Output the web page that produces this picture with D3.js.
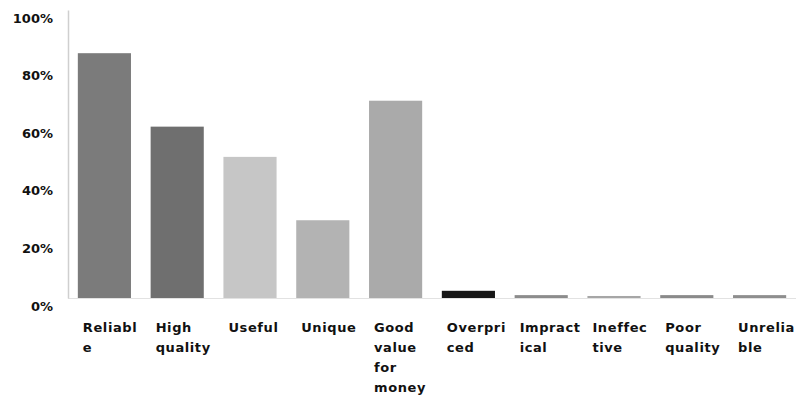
<!DOCTYPE html>
<html>
<head>
<meta charset="utf-8">
<script src="https://cdn.jsdelivr.net/npm/d3@7/dist/d3.min.js"></script>
<style>
  html, body { margin: 0; padding: 0; background: #fff; }
  svg { display: block; }
  text { font-family: "DejaVu Sans", sans-serif; font-weight: bold; fill: #111; }
</style>
</head>
<body>
<svg id="chart" width="796" height="398"></svg>
<script>
// Share of respondents choosing each attribute
const categories = ["Reliable", "High quality", "Useful", "Unique", "Good value for money",
                    "Overpriced", "Impractical", "Ineffective", "Poor quality", "Unreliable"];
const values = [0.85, 0.595, 0.49, 0.27, 0.685, 0.025, 0.01, 0.007, 0.01, 0.01];
const barColors = ["#7b7b7b", "#6f6f6f", "#c6c6c6", "#b3b3b3", "#aaaaaa",
                   "#161616", "#8c8c8c", "#a6a6a6", "#8a8a8a", "#8e8e8e"];
const yTicks = [0, 0.2, 0.4, 0.6, 0.8, 1.0];

const svg = d3.select("#chart");
const plotLeft = 68, plotRight = 796, plotTop = 10, plotBottom = 298;

const x = d3.scaleBand()
  .domain(categories)
  .range([plotLeft, plotRight])
  .paddingInner(0.27)
  .paddingOuter(0.135);

const y = d3.scaleLinear().domain([0, 1]).range([plotBottom, plotTop]);

// baseline
svg.append("line")
  .attr("x1", plotLeft).attr("x2", plotRight)
  .attr("y1", plotBottom + 0.5).attr("y2", plotBottom + 0.5)
  .attr("stroke", "#e2e2e2").attr("stroke-width", 1);

// bars
svg.append("g").selectAll("rect")
  .data(categories)
  .join("rect")
  .attr("x", d => x(d))
  .attr("width", x.bandwidth())
  .attr("y", (d, i) => y(values[i]))
  .attr("height", (d, i) => y(0) - y(values[i]))
  .attr("fill", (d, i) => barColors[i]);

// y axis
const yAxis = svg.append("g")
  .attr("transform", `translate(${plotLeft},0)`)
  .call(d3.axisLeft(y).tickValues(yTicks).tickFormat(d3.format(".0%")).tickSize(0).tickPadding(15));
yAxis.select(".domain").attr("stroke", "#cfcfcf").attr("stroke-width", 1.5);
yAxis.selectAll("text")
  .attr("dy", "0.32em")
  .attr("y", 8)
  .style("font-size", "13px")
  .style("font-family", "'DejaVu Sans', sans-serif")
  .style("font-weight", "bold")
  .attr("fill", "#111");

// wrap a label into lines of at most n characters, splitting long words
function wrapLabel(label, n) {
  const lines = [];
  let cur = "";
  label.split(" ").forEach(w => {
    while (w.length > n) {
      if (cur) { lines.push(cur); cur = ""; }
      lines.push(w.slice(0, n));
      w = w.slice(n);
    }
    if (!cur) cur = w;
    else if ((cur + " " + w).length <= n) cur += " " + w;
    else { lines.push(cur); cur = w; }
  });
  if (cur) lines.push(cur);
  return lines;
}

// x labels
const xl = svg.append("g").selectAll("text")
  .data(categories)
  .join("text")
  .attr("x", d => x(d) + 5)
  .attr("y", 327)
  .style("font-size", "13px")
  .style("letter-spacing", "0.6px");
xl.each(function (d) {
  const t = d3.select(this);
  wrapLabel(d, 7).forEach((line, i) => {
    t.append("tspan")
      .attr("x", x(d) + 5)
      .attr("y", 327 + i * 20)
      .attr("dy", "0.35em")
      .text(line);
  });
});
</script>
</body>
</html>
